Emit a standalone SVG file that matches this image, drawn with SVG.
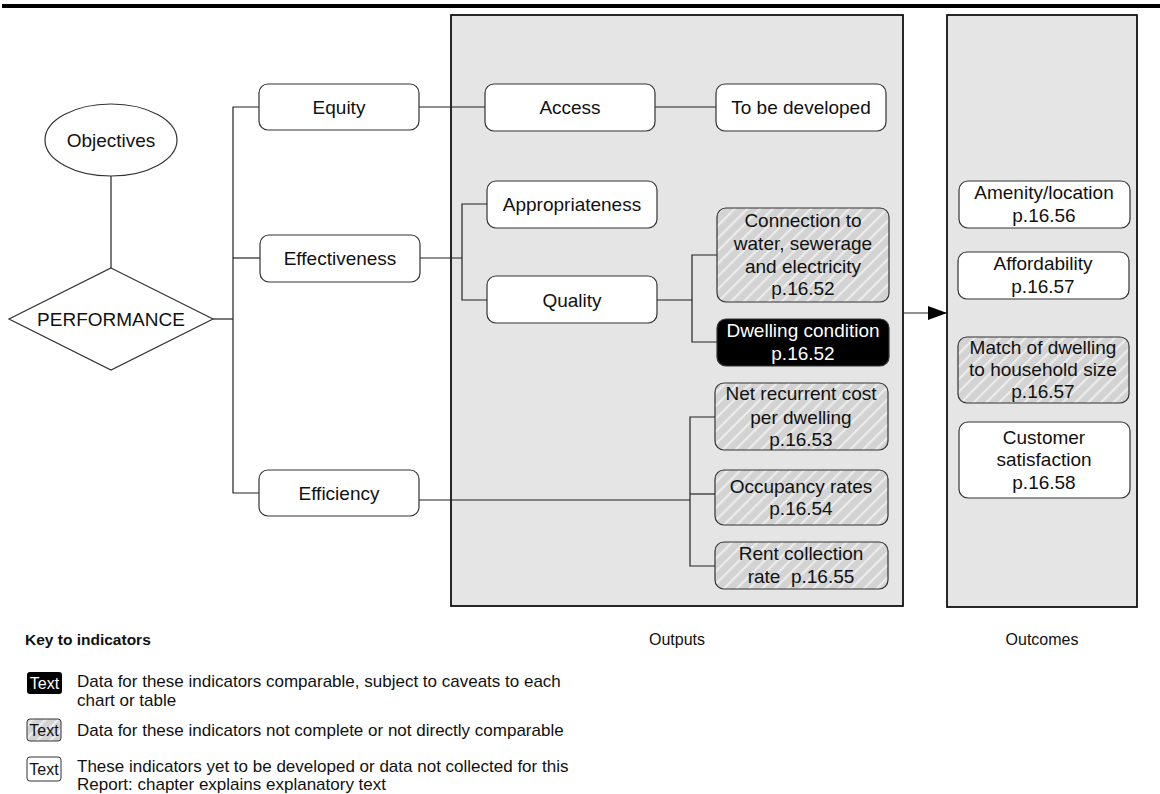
<svg xmlns="http://www.w3.org/2000/svg" width="1160" height="794" viewBox="0 0 1160 794">
<defs>
<pattern id="hatch" patternUnits="userSpaceOnUse" width="9" height="9" patternTransform="rotate(45)">
<rect width="9" height="9" fill="#d3d3d3"/>
<rect x="0" y="0" width="2.2" height="9" fill="#ececec"/>
</pattern>
<marker id="arr" markerWidth="20" markerHeight="14" refX="19" refY="7" orient="auto" markerUnits="userSpaceOnUse">
<path d="M0,0 L19,7 L0,14 Z" fill="#000"/>
</marker>
<style>
text{font-family:"Liberation Sans",Arial,sans-serif;fill:#111;text-anchor:middle}
.n{font-size:19px}
.w{fill:#fff}
.box{fill:#fff;stroke:#333;stroke-width:1.2}
.hb{fill:url(#hatch);stroke:#333;stroke-width:1.2}
.bb{fill:#000;stroke:#333;stroke-width:1.2}
.panel{fill:#e5e5e5;stroke:#111;stroke-width:1.8}
.c{fill:none;stroke:#222;stroke-width:1.2}
.lg{font-size:17px;text-anchor:start}
.lk{font-size:16px}
.lab{font-size:16px}
</style>
</defs>
<rect x="2" y="4" width="1158" height="4" fill="#000"/>
<g id="panels">
<rect class="panel" x="451" y="15" width="452" height="591"/>
<rect class="panel" x="947" y="15" width="190" height="592"/>
</g>
<g id="connectors">
<line class="c" x1="111" y1="176" x2="111" y2="268"/>
<polyline class="c" points="213,319 233,319"/>
<polyline class="c" points="259,107 233,107 233,493 259,493"/>
<line class="c" x1="233" y1="258" x2="260" y2="258"/>
<line class="c" x1="419" y1="107" x2="485" y2="107"/>
<line class="c" x1="655" y1="107" x2="716" y2="107"/>
<line class="c" x1="420" y1="258" x2="462" y2="258"/>
<polyline class="c" points="487,204 462,204 462,300 487,300"/>
<line class="c" x1="657" y1="300" x2="692" y2="300"/>
<polyline class="c" points="717,255 692,255 692,342 717,342"/>
<line class="c" x1="419" y1="500" x2="690" y2="500"/>
<polyline class="c" points="715,417 690,417 690,566 715,566"/>
<line class="c" x1="690" y1="494" x2="715" y2="494"/>
<line class="c" x1="904" y1="313" x2="947" y2="313" marker-end="url(#arr)"/>
</g>
<g id="objectives">
<ellipse cx="111" cy="140" rx="66" ry="36" fill="#fff" stroke="#333" stroke-width="1.2"/>
<text class="n" x="111" y="147">Objectives</text>
</g>
<g id="performance">
<polygon points="111,268 213,319 111,370 9,319" fill="#fff" stroke="#333" stroke-width="1.2"/>
<text class="n" x="111" y="326">PERFORMANCE</text>
</g>
<g id="equity"><rect class="box" x="259" y="84" width="160" height="46" rx="9"/><text class="n" x="339" y="114">Equity</text></g>
<g id="effectiveness"><rect class="box" x="260" y="235" width="160" height="47" rx="9"/><text class="n" x="340" y="265">Effectiveness</text></g>
<g id="efficiency"><rect class="box" x="259" y="470" width="160" height="46" rx="9"/><text class="n" x="339" y="500">Efficiency</text></g>
<g id="access"><rect class="box" x="485" y="84" width="170" height="47" rx="9"/><text class="n" x="570" y="114">Access</text></g>
<g id="tobedeveloped"><rect class="box" x="716" y="84" width="170" height="47" rx="9"/><text class="n" x="801" y="114">To be developed</text></g>
<g id="appropriateness"><rect class="box" x="487" y="181" width="170" height="47" rx="9"/><text class="n" x="572" y="211">Appropriateness</text></g>
<g id="quality"><rect class="box" x="487" y="276" width="170" height="47" rx="9"/><text class="n" x="572" y="307">Quality</text></g>
<g id="connection"><rect class="hb" x="717" y="208" width="172" height="94" rx="9"/>
<text class="n" x="803" y="227">Connection to</text><text class="n" x="803" y="250">water, sewerage</text><text class="n" x="803" y="273">and electricity</text><text class="n" x="803" y="295">p.16.52</text></g>
<g id="dwelling"><rect class="bb" x="717" y="319" width="172" height="47" rx="9"/>
<text class="n w" x="803" y="337">Dwelling condition</text><text class="n w" x="803" y="360">p.16.52</text></g>
<g id="netcost"><rect class="hb" x="715" y="383" width="173" height="67" rx="9"/>
<text class="n" x="801" y="400">Net recurrent cost</text><text class="n" x="801" y="424">per dwelling</text><text class="n" x="801" y="446">p.16.53</text></g>
<g id="occupancy"><rect class="hb" x="715" y="470" width="173" height="55" rx="9"/>
<text class="n" x="801" y="493">Occupancy rates</text><text class="n" x="801" y="515">p.16.54</text></g>
<g id="rent"><rect class="hb" x="715" y="542" width="173" height="47" rx="9"/>
<text class="n" x="801" y="560">Rent collection</text><text class="n" x="801" y="583" xml:space="preserve">rate  p.16.55</text></g>
<g id="amenity"><rect class="box" x="959" y="181" width="171" height="47" rx="9"/>
<text class="n" x="1044" y="199">Amenity/location</text><text class="n" x="1044" y="222">p.16.56</text></g>
<g id="affordability"><rect class="box" x="958" y="252" width="171" height="47" rx="9"/>
<text class="n" x="1043" y="270">Affordability</text><text class="n" x="1043" y="293">p.16.57</text></g>
<g id="match"><rect class="hb" x="958" y="337" width="171" height="66" rx="9"/>
<text class="n" x="1043" y="354">Match of dwelling</text><text class="n" x="1043" y="376">to household size</text><text class="n" x="1043" y="398">p.16.57</text></g>
<g id="customer"><rect class="box" x="959" y="422" width="171" height="76" rx="9"/>
<text class="n" x="1044" y="444">Customer</text><text class="n" x="1044" y="466">satisfaction</text><text class="n" x="1044" y="489">p.16.58</text></g>
<g id="labels">
<text class="lab" x="677" y="645">Outputs</text>
<text class="lab" x="1042" y="645">Outcomes</text>
</g>
<g id="legend">
<text x="25" y="645" font-weight="bold" style="font-size:15.5px;text-anchor:start">Key to indicators</text>
<rect x="27" y="672" width="35" height="22" rx="3" fill="#000"/>
<text x="44.5" y="689" class="lk w">Text</text>
<text class="lg" x="77" y="687">Data for these indicators comparable, subject to caveats to each</text>
<text class="lg" x="77" y="706">chart or table</text>
<rect x="27" y="719" width="34" height="22" rx="3" fill="url(#hatch)" stroke="#333" stroke-width="1"/>
<text x="44" y="736" class="lk">Text</text>
<text class="lg" x="77" y="736">Data for these indicators not complete or not directly comparable</text>
<rect x="27" y="757" width="34" height="24" rx="3" fill="#fff" stroke="#333" stroke-width="1"/>
<text x="44" y="775" class="lk">Text</text>
<text class="lg" x="77" y="772">These indicators yet to be developed or data not collected for this</text>
<text class="lg" x="77" y="790">Report: chapter explains explanatory text</text>
</g>
</svg>
